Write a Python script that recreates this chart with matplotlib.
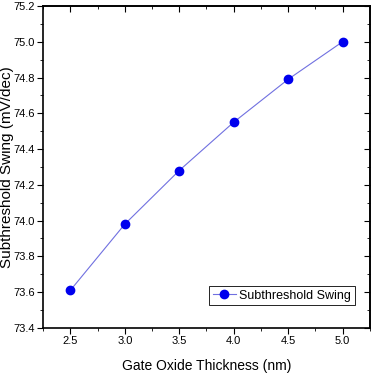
import matplotlib
matplotlib.use('Agg')
import matplotlib.pyplot as plt
from matplotlib.ticker import MultipleLocator

# --- Datos ---
espesor = [2.5, 3.0, 3.5, 4.0, 4.5, 5.0]
swing = [73.61, 73.98, 74.28, 74.55, 74.79, 75.00]

plt.rcParams['font.family'] = ['Liberation Sans', 'DejaVu Sans']

fig = plt.figure(figsize=(3.72, 3.76), dpi=100)
ax = fig.add_axes([0.116, 0.128, 0.878, 0.856])

ax.plot(espesor, swing, color='#7070e0', linewidth=0.8, marker='o',
        markersize=6, markerfacecolor='#0000ee', markeredgecolor='#0000ee',
        label='Subthreshold Swing')

ax.set_xlim(2.25, 5.25)
ax.set_ylim(73.4, 75.2)
ax.xaxis.set_major_locator(MultipleLocator(0.5))
ax.xaxis.set_minor_locator(MultipleLocator(0.25))
ax.yaxis.set_major_locator(MultipleLocator(0.2))
ax.yaxis.set_minor_locator(MultipleLocator(0.1))
ax.tick_params(which='both', direction='out', labelsize=8)
ax.tick_params(which='major', length=4, pad=2)
ax.tick_params(which='minor', length=2)
for s in ax.spines.values():
    s.set_linewidth(1.2)

# ticks hacia dentro arriba y a la derecha (estilo Origin)
sec_x = ax.secondary_xaxis('top')
sec_y = ax.secondary_yaxis('right')
sec_x.xaxis.set_major_locator(MultipleLocator(0.5))
sec_x.xaxis.set_minor_locator(MultipleLocator(0.25))
sec_y.yaxis.set_major_locator(MultipleLocator(0.2))
sec_y.yaxis.set_minor_locator(MultipleLocator(0.1))
for sec in (sec_x, sec_y):
    sec.tick_params(which='both', direction='in', labeltop=False, labelright=False)
    sec.tick_params(which='major', length=4)
    sec.tick_params(which='minor', length=2)
    sec.spines[:].set_linewidth(1.2)

ax.set_xlabel('Gate Oxide Thickness (nm)', fontsize=10, labelpad=9)
ax.set_ylabel('Subthreshold Swing (mV/dec)', fontsize=11)
ax.yaxis.set_label_coords(-0.09, 0.5)

leg = ax.legend(loc='lower right', bbox_to_anchor=(0.955, 0.07), fontsize=9,
                fancybox=False, edgecolor='black', framealpha=1,
                handlelength=1.8, handletextpad=0.3, borderpad=0.3,
                borderaxespad=0)
leg.get_frame().set_linewidth(0.6)

plt.savefig('out.png', dpi=100)
